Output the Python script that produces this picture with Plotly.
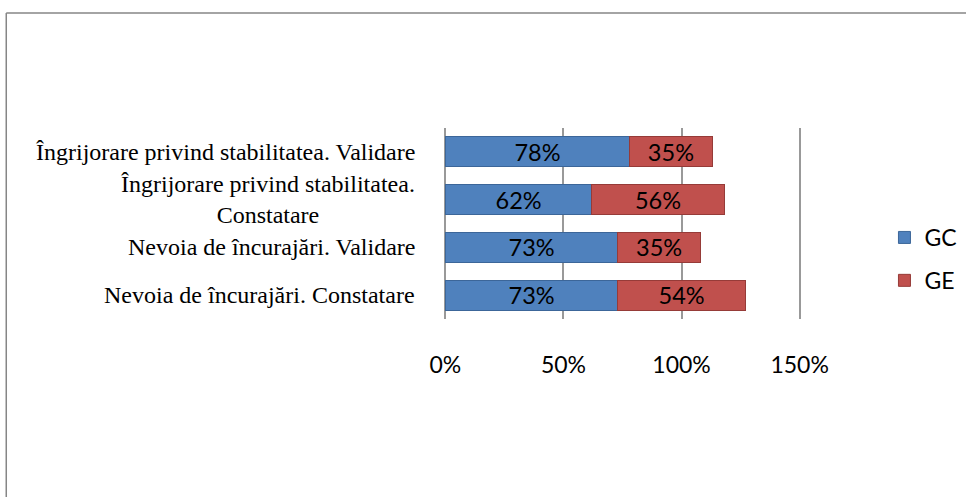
import plotly.graph_objects as go

categories = [
    "Îngrijorare privind stabilitatea. Validare",
    "Îngrijorare privind stabilitatea.<br>Constatare",
    "Nevoia de încurajări. Validare",
    "Nevoia de încurajări. Constatare",
]
gc_values = [78, 62, 73, 73]
ge_values = [35, 56, 35, 54]
tick_vals = [0, 50, 100, 150]
tick_text = ["0%", "50%", "100%", "150%"]

W, H = 966, 497
# plot area in page pixels (range padded by 1 unit each side so edge gridlines show)
UNIT = 355 / 150
PL, PR, PT, PB = 445 - UNIT, 800 + UNIT, 128, 319
ML, MR, MT, MB = PL, W - PR, PT, H - PB
PW, PH = PR - PL, PB - PT

def px_x(p):
    return (p - PL) / PW

def px_y(p):
    return (PB - p) / PH

SANS = "Lato, Open Sans, sans-serif"
SERIF = "Liberation Serif, Times New Roman, serif"

fig = go.Figure()
fig.add_trace(go.Bar(
    y=categories, x=gc_values, orientation="h", name="GC",
    marker=dict(color="#4F81BD", line=dict(color="#3C6699", width=1)),
    texttemplate="%{x}%", textposition="inside", insidetextanchor="middle",
    constraintext="none",
    textfont=dict(family=SANS, size=23.5, color="black"),
    legendgroup="a",
))
fig.add_trace(go.Bar(
    y=categories, x=ge_values, orientation="h", name="GE",
    marker=dict(color="#C0504D", line=dict(color="#963B38", width=1)),
    texttemplate="%{x}%", textposition="inside", insidetextanchor="middle",
    constraintext="none",
    textfont=dict(family=SANS, size=23.5, color="black"),
    legendgroup="b",
))

fig.update_layout(
    width=W, height=H,
    margin=dict(l=ML, r=MR, t=MT, b=MB, autoexpand=False),
    barmode="stack", bargap=0.37,
    plot_bgcolor="white", paper_bgcolor="white",
    xaxis=dict(range=[-1, 151], tickvals=tick_vals, ticktext=tick_text,
               showgrid=True, gridcolor="#999999", gridwidth=1.5,
               zeroline=False, showline=False, ticks="",
               ticklabelstandoff=30, automargin=False,
               tickfont=dict(family=SANS, size=23, color="black")),
    yaxis=dict(autorange="reversed", showgrid=False, zeroline=False,
               showline=False, ticks="", showticklabels=False, automargin=False),
    legend=dict(x=px_x(885), y=px_y(259), xanchor="left", yanchor="middle",
                tracegroupgap=10, traceorder="grouped",
                font=dict(family=SANS, size=23, color="black")),
    showlegend=True,
)

# category labels, centred multi-line text right-anchored next to the bars
for cat in categories:
    fig.add_annotation(x=px_x(417), xref="paper", y=cat, yref="y",
                       text=cat, showarrow=False, xanchor="right", align="center",
                       font=dict(family=SERIF, size=24, color="black"))

# outer chart border (top and left visible)
fig.add_shape(type="line", xref="paper", yref="paper",
              x0=px_x(5), x1=px_x(990), y0=px_y(13), y1=px_y(13),
              line=dict(color="#868686", width=1.5))
fig.add_shape(type="line", xref="paper", yref="paper",
              x0=px_x(5), x1=px_x(5), y0=px_y(13), y1=px_y(520),
              line=dict(color="#868686", width=1.5))

fig.write_html("out.html", config={"displayModeBar": False},
               post_script="document.body.style.margin='0';")
